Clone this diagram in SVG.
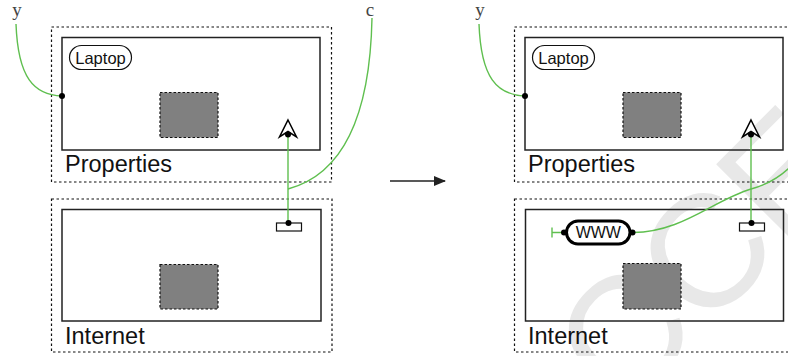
<svg xmlns="http://www.w3.org/2000/svg" width="788" height="356" viewBox="0 0 788 356">
  <defs>
    <style>
      .frame { fill: none; stroke: #111; stroke-width: 1.2; stroke-dasharray: 2.5 2.5; }
      .box { fill: none; stroke: #222; stroke-width: 1.5; }
      .block { fill: #808080; stroke: #111; stroke-width: 1.2; stroke-dasharray: 2.5 2; }
      .pill { fill: #fff; stroke: #111; stroke-width: 1.2; }
      .heavy { fill: #fff; stroke: #000; stroke-width: 3; }
      .wire { fill: none; stroke: #5fbf4f; stroke-width: 1.4; }
      .dot { fill: #000; }
      .label { font-family: "Liberation Sans", Arial, sans-serif; fill: #111; }
      .var { font-family: "Liberation Serif", "DejaVu Serif", serif; font-size: 19px; fill: #444; }
      .mark { font-family: "Liberation Sans", Arial, sans-serif; font-size: 160px; fill: #e8e8e8; }
    </style>
    <marker id="head" viewBox="0 0 12 10" refX="11" refY="5" markerWidth="12" markerHeight="10" markerUnits="userSpaceOnUse" orient="auto">
      <path d="M0,0 L12,5 L0,10 Z" fill="#222"/>
    </marker>
  </defs>

  <rect width="788" height="356" fill="#fff"/>

  <!-- background watermark -->
  <text class="mark" transform="translate(546,490) rotate(-45)">ACCEPTED MANUSCRIPT</text>

  <!-- ===== left state ===== -->
  <g id="props-left">
    <rect class="frame" x="51.5" y="27" width="280" height="155"/>
    <rect class="box" x="62" y="37.5" width="258" height="112.5"/>
    <rect class="block" x="160" y="92.5" width="58" height="45"/>
    <text class="label" x="65" y="172" font-size="23.5">Properties</text>
  </g>
  <g id="laptop-left">
    <rect class="pill" x="69.5" y="45.5" width="62" height="24" rx="12"/>
    <text class="label" x="100.5" y="63.5" font-size="16.5" text-anchor="middle">Laptop</text>
  </g>
  <g id="antenna-left">
    <path d="M288,120 L296.5,137 L288,131.5 L279.5,137 Z" fill="#fff" stroke="#000" stroke-width="1.5" stroke-linejoin="miter"/>
  </g>
  <g id="internet-left">
    <rect class="frame" x="51.5" y="199" width="280.5" height="153"/>
    <rect class="box" x="62" y="209.5" width="259" height="111.5"/>
    <rect class="block" x="160" y="264.5" width="58" height="44.5"/>
    <text class="label" x="65" y="343.5" font-size="23.5">Internet</text>
  </g>
  <g id="socket-left">
    <rect x="276.5" y="223" width="25" height="8" fill="#fff" stroke="#111" stroke-width="1.2"/>
  </g>
  <g id="y-left">
    <text class="var" x="17" y="15.5" text-anchor="middle">y</text>
  </g>
  <g id="c-left">
    <text class="var" x="370" y="15.5" text-anchor="middle">c</text>
  </g>

  <!-- transition arrow -->
  <g id="step-arrow">
    <line x1="390" y1="181" x2="445" y2="181" stroke="#222" stroke-width="1.5" marker-end="url(#head)"/>
  </g>

  <!-- ===== right state ===== -->
  <g id="props-right">
    <rect class="frame" x="514.5" y="27" width="280" height="155"/>
    <rect class="box" x="525" y="37.5" width="258" height="112.5"/>
    <rect class="block" x="623" y="92.5" width="58" height="45"/>
    <text class="label" x="528" y="172" font-size="23.5">Properties</text>
  </g>
  <g id="laptop-right">
    <rect class="pill" x="532.5" y="45.5" width="62" height="24" rx="12"/>
    <text class="label" x="563.5" y="63.5" font-size="16.5" text-anchor="middle">Laptop</text>
  </g>
  <g id="antenna-right">
    <path d="M751,120 L759.5,137 L751,131.5 L742.5,137 Z" fill="#fff" stroke="#000" stroke-width="1.5" stroke-linejoin="miter"/>
  </g>
  <g id="internet-right">
    <rect class="frame" x="514.5" y="199" width="280.5" height="153"/>
    <rect class="box" x="525.5" y="209.5" width="258" height="111.5"/>
    <rect class="block" x="623" y="263.5" width="58" height="45.5"/>
    <text class="label" x="528" y="343.5" font-size="23.5">Internet</text>
  </g>
  <g id="socket-right">
    <rect x="739.5" y="223" width="25" height="8" fill="#fff" stroke="#111" stroke-width="1.2"/>
  </g>
  <g id="www">
    <rect class="heavy" x="566.5" y="221" width="63.5" height="23" rx="11.5"/>
    <text class="label" x="598.3" y="238" font-size="16" text-anchor="middle">WWW</text>
  </g>
  <g id="y-right">
    <text class="var" x="480" y="15.5" text-anchor="middle">y</text>
  </g>

  <!-- connectors -->
  <g id="connectors">
    <path class="wire" d="M16,24 C18,78 34,95 62,96"/>
    <path class="wire" d="M372,18 C370,120 340,175 288,189"/>
    <path class="wire" d="M288,135 L288,223"/>

    <path class="wire" d="M479,24 C481,78 497,95 525,96"/>
    <path class="wire" d="M835,18 C833,120 803,175 751,189 C712,201 682,232 633,232.5"/>
    <path class="wire" d="M751,135 L751,223"/>
    <path class="wire" d="M563,232.5 L552,232.5 M552,227.5 L552,237.5"/>

    <circle class="dot" cx="62" cy="96" r="3"/>
    <circle class="dot" cx="288" cy="134.5" r="3"/>
    <circle class="dot" cx="288.5" cy="223" r="3"/>
    <circle class="dot" cx="525" cy="96" r="3"/>
    <circle class="dot" cx="751" cy="134.5" r="3"/>
    <circle class="dot" cx="751.5" cy="223" r="3"/>
    <circle class="dot" cx="564" cy="232.5" r="3"/>
    <circle class="dot" cx="632.5" cy="232.5" r="3"/>
  </g>
</svg>
